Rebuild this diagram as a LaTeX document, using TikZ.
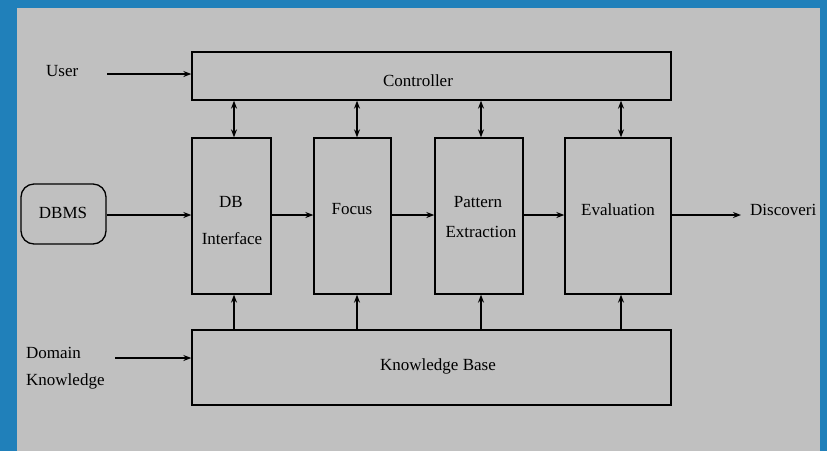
\documentclass[tikz,border=0pt]{standalone}
\usepackage{fontspec}
\setmainfont{Liberation Serif}
\usetikzlibrary{arrows.meta}
\definecolor{frameblue}{RGB}{32,128,186}
\definecolor{bggray}{RGB}{192,192,192}
\tikzset{
  box/.style={draw=black, line width=1.3pt, inner sep=0pt},
  lbl/.style={font=\fontsize{17}{20}\selectfont, inner sep=0pt},
  conn/.style={line width=1.3pt, -{Stealth[length=8pt,width=6pt]}},
  dconn/.style={line width=1.3pt, {Stealth[length=8pt,width=6pt]}-{Stealth[length=8pt,width=6pt]}},
}
\begin{document}
\begin{tikzpicture}[x=1pt,y=-1pt]
\useasboundingbox (0,0) rectangle (827,451);
\fill[frameblue] (0,0) rectangle (827,451);
\fill[bggray] (17,8) rectangle (820,451);

% boxes
\node[box, minimum width=479pt, minimum height=48pt] (ctrl) at (431.5,76) {};
\node[box, minimum width=79pt, minimum height=156pt] (db) at (231.5,216) {};
\node[box, minimum width=77pt, minimum height=156pt] (focus) at (352.5,216) {};
\node[box, minimum width=88pt, minimum height=156pt] (pat) at (479,216) {};
\node[box, minimum width=106pt, minimum height=156pt] (eval) at (618,216) {};
\node[box, minimum width=479pt, minimum height=75pt] (kb) at (431.5,367.5) {};
\node[box, rounded corners=13pt, minimum width=85pt, minimum height=60pt] (dbms) at (63.5,214) {};

% labels
\node[lbl] (tctrl) at (418,81) {Controller};
\node[lbl] (tdb1) at (231,202) {DB};
\node[lbl] (tdb2) at (232,239) {Interface};
\node[lbl] (tfocus) at (352,209) {Focus};
\node[lbl] (tpat1) at (478,202) {Pattern};
\node[lbl] (tpat2) at (481,232) {Extraction};
\node[lbl] (teval) at (618,210) {Evaluation};
\node[lbl] (tkb) at (438,366) {Knowledge Base};
\node[lbl] (tdbms) at (63,213) {DBMS};
\node[lbl, anchor=west] (tuser) at (46,71) {User};
\node[lbl, anchor=west] (tdom1) at (26,353) {Domain};
\node[lbl, anchor=west] (tdom2) at (26,381) {Knowledge};
\node[lbl, anchor=west] (tdisc) at (750,210) {Discoveri};

% connector anchors
\coordinate (x1) at (234,0);
\coordinate (x2) at (357,0);
\coordinate (x3) at (481,0);
\coordinate (x4) at (621,0);
\coordinate (hy) at (0,215);
\coordinate (userstart) at (107,74);
\coordinate (domstart) at (115,358);
\coordinate (discend) at (741,215);

% controller <-> boxes
\draw[dconn] (x1 |- ctrl.south) -- (x1 |- db.north);
\draw[dconn] (x2 |- ctrl.south) -- (x2 |- focus.north);
\draw[dconn] (x3 |- ctrl.south) -- (x3 |- pat.north);
\draw[dconn] (x4 |- ctrl.south) -- (x4 |- eval.north);

% knowledge base -> boxes
\draw[conn] (x1 |- kb.north) -- (x1 |- db.south);
\draw[conn] (x2 |- kb.north) -- (x2 |- focus.south);
\draw[conn] (x3 |- kb.north) -- (x3 |- pat.south);
\draw[conn] (x4 |- kb.north) -- (x4 |- eval.south);

% horizontal flow
\draw[conn] (dbms.east |- hy) -- (db.west |- hy);
\draw[conn] (db.east |- hy) -- (focus.west |- hy);
\draw[conn] (focus.east |- hy) -- (pat.west |- hy);
\draw[conn] (pat.east |- hy) -- (eval.west |- hy);
\draw[conn] (eval.east |- hy) -- (discend);

% inputs
\draw[conn] (userstart) -- (userstart -| ctrl.west);
\draw[conn] (domstart) -- (domstart -| kb.west);
\end{tikzpicture}
\end{document}
